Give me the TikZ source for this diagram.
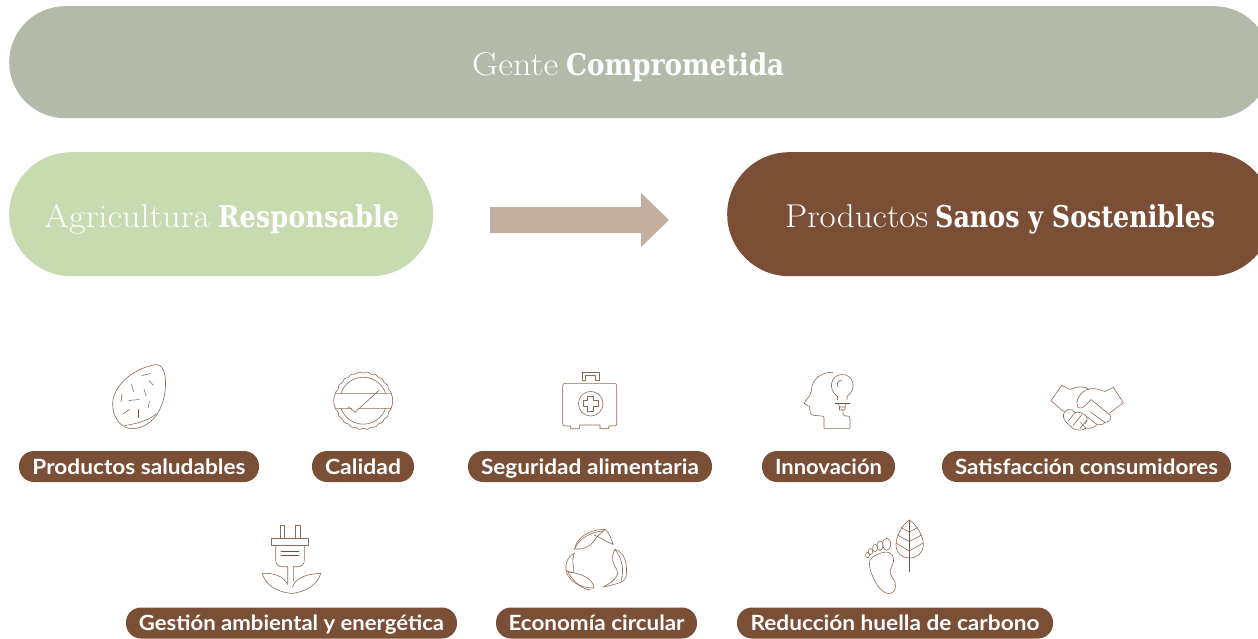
\documentclass[tikz,border=0pt]{standalone}
\usepackage{fontspec}
\usepackage{graphicx}
\setmainfont{Latin Modern Roman}
\newfontfamily\slabbold{DejaVu Serif Condensed}[BoldFont={* Bold}]
\newfontfamily\labelfont{Lato}[BoldFont={* Bold}]
\definecolor{sagec}{HTML}{B3BAA9}
\definecolor{greenc}{HTML}{C8DAB0}
\definecolor{brownc}{HTML}{7B4F35}
\definecolor{arrowc}{HTML}{C3AFA0}
\newcommand{\fitw}[2]{\resizebox{#1pt}{\height}{#2}}
\newcommand{\lighttxt}[2]{\fitw{#1}{\fontsize{33}{36}\selectfont #2}}
\newcommand{\boldtxt}[2]{\fitw{#1}{\fontsize{30}{36}\selectfont\slabbold\bfseries #2}}
\newcommand{\lab}[2]{\fitw{#1}{\fontsize{21}{24}\selectfont\labelfont\bfseries #2}}
\tikzset{
  x=1pt,y=-1pt,
  bigpill/.style={fill=#1,draw=none,rectangle,inner sep=0pt,anchor=north west},
  headtxt/.style={text=white,inner sep=0pt,anchor=base west},
  tagpill/.style={fill=brownc,text=white,rectangle,rounded corners=15pt,inner sep=0pt,
    minimum height=31pt,text height=19pt,text depth=4pt,align=center},
  icon/.style={draw=brownc!85,line width=0.6pt,line join=round,line cap=round},
  icondark/.style={draw=brownc,line width=0.7pt,line cap=round},
}
\begin{document}
\begin{tikzpicture}
\useasboundingbox (0,0) rectangle (1258,638);
\clip (0,0) rectangle (1258,638);
% big pills
\node[bigpill=sagec,minimum width=1261pt,minimum height=112pt,rounded corners=56pt] (top) at (9,6) {};
\node[bigpill=greenc,minimum width=424pt,minimum height=124pt,rounded corners=62pt] (agri) at (9,152) {};
\node[bigpill=brownc,minimum width=545pt,minimum height=124pt,rounded corners=62pt] (prod) at (727,152) {};
\node[headtxt] (toptxt) at (472,75) {\lighttxt{86}{Gente}\hspace{8pt}\boldtxt{218}{Comprometida}};
\node[headtxt] (agritxt) at (44,227) {\lighttxt{166}{Agricultura}\hspace{8pt}\boldtxt{181}{Responsable}};
\node[headtxt] (prodtxt) at (785,227) {\lighttxt{143}{Productos}\hspace{7pt}\boldtxt{280}{Sanos y Sostenibles}};
% block arrow
\fill[arrowc] (490,207) -- (641,207) -- (641,193) -- (669,220) -- (641,247) -- (641,233) -- (490,233) -- cycle;
% tags
\node[tagpill,minimum width=240pt] (t1) at (139,466.5) {\lab{213}{Productos saludables}};
\node[tagpill,minimum width=102pt] (t2) at (363,466.5) {\lab{76}{Calidad}};
\node[tagpill,minimum width=244pt] (t3) at (590,466.5) {\lab{218}{Seguridad alimentaria}};
\node[tagpill,minimum width=133pt] (t4) at (828.5,466.5) {\lab{107}{Innovación}};
\node[tagpill,minimum width=289pt] (t5) at (1086.5,466.5) {\lab{263}{Satisfacción consumidores}};
\node[tagpill,minimum width=331pt] (t6) at (291.5,623) {\lab{305}{Gestión ambiental y energética}};
\node[tagpill,minimum width=201pt] (t7) at (596.5,623) {\lab{176}{Economía circular}};
\node[tagpill,minimum width=316pt] (t8) at (895,623) {\lab{289}{Reducción huella de carbono}};
% almond
\draw[icon] (156,364.5) .. controls (162,364) and (166,372) .. (165.5,385)
  .. controls (165,405) and (155,427) .. (133,428.7)
  .. controls (120,429) and (112,416) .. (112.7,403)
  .. controls (113,388) and (130,369) .. (156,364.5) -- cycle;
\draw[icon] (125,425.5) .. controls (135,424) and (148,421) .. (156,414);
\draw[icon] (142,375.5)--(151,373.5) (149,380.5)--(153.5,385.5) (131.5,384)--(133.5,391.5)
  (144,389)--(146,396) (122,394)--(121,401.5) (129,400.5)--(139,399.5) (149.5,401)--(148,408)
  (123,414)--(129.5,409.5);
\draw[icondark] (138.3,409.5)--(138.3,417.5);
% quality badge
\draw[icon] plot[domain=0:360,samples=133,smooth] ({363.3+(28.3+0.6*cos(22*\x))*cos(\x)},{400.7+(28.3+0.6*cos(22*\x))*sin(\x)});
\draw[icon] (363.3,400.7) circle (23.5);
\draw[icon,fill=white] (335.5,393.3)--(391,393.3) .. controls (393.3,397) and (393.3,404) .. (391,408.3)
  -- (335.5,408.3) .. controls (333,404) and (333,397) .. (335.5,393.3) -- cycle;
\draw[icon,fill=white,draw=none] (352,406) rectangle (358,409);
\draw[icon] (348.3,406.7)--(355,412.3)--(379.3,390);
% first aid kit
\draw[icon] (565,383.3)--(614.5,383.3) .. controls (616,383.3) and (616.7,384.5) .. (616.7,386)
  --(616.7,423.5) .. controls (616.7,425) and (616,426) .. (614.5,426)--(608.7,426)--(608.7,428.7)--(600,428.7)--(600,425)--(579.3,425)--(579.3,428.7)--(570.7,428.7)--(570.7,426)--(565,426)
  .. controls (563.5,426) and (562.7,425) .. (562.7,423.5)--(562.7,386) .. controls (562.7,384.5) and (563.5,383.3) .. (565,383.3) -- cycle;
\draw[icon] (582.3,380.7)--(582.3,372.3)--(599,372.3)--(599,380.7)--(595.7,380.7)--(595.7,375.7)--(585.7,375.7)--(585.7,380.7)--cycle;
\draw[icon] (590.7,403.7) circle (12.3);
\draw[icon] (587.7,396.5)--(593.7,396.5)--(593.7,400.7)--(598,400.7)--(598,406.7)--(593.7,406.7)--(593.7,411)--(587.7,411)--(587.7,406.7)--(583.4,406.7)--(583.4,400.7)--(587.7,400.7)--cycle;
% head with bulb
\draw[icon] (833.3,372.3) .. controls (820,372) and (812,380) .. (811.5,390)
  .. controls (811,396) and (806,399) .. (804.3,403.3) -- (809.5,406.7)
  .. controls (810.5,410) and (809,415) .. (813.3,415.3) -- (822,416)
  .. controls (823.7,416.2) and (824,417) .. (824,418) -- (824,428.3) -- (850,428.3) -- (850,418)
  .. controls (850,416.5) and (849,416) .. (848,416) -- (845,416) .. controls (843,416) and (842.8,414) .. (842.8,410);
\draw[icon] (837.5,399.5) -- (837.5,396.5) .. controls (827,389) and (831,374.5) .. (842.3,374.5)
  .. controls (853.5,374.5) and (857.5,389) .. (847,396.5) -- (847,399.5);
\draw[icon] (838,387) .. controls (836,384) and (838,380) .. (842,380);
\draw[icondark] (835,403.3)--(850,403.3);
\draw[icon] (838.3,403.3)--(839.5,407)--(845,407)--(846.3,403.3) (839.5,407)--(839.5,410)--(845,410)--(845,407);
% handshake
\draw[icon] (1051,400.7)--(1061.7,385.3)--(1070,389.5) .. controls (1078,386) and (1085,386) .. (1089,389.5);
\draw[icon] (1123.3,402.7)--(1113.3,387.3)--(1105,391.5) .. controls (1098,389) and (1090,386) .. (1083,392)
  .. controls (1078,396) and (1075,403) .. (1078,407.5) .. controls (1081,409) and (1084,407) .. (1086,405)
  -- (1091,399.5) -- (1110,415) .. controls (1112,418) and (1111,421) .. (1105,422.5);
\draw[icon] (1051,400.7)--(1063.5,411.5);
\draw[icon] (1123.3,402.7)--(1109.5,413);
\draw[icon] (1090.5,412)--(1105,422.5) .. controls (1103,425) and (1099,425) .. (1097,424.5) -- (1086,416);
\draw[icon] (1097,424.5) .. controls (1094,428) and (1089,429) .. (1086,428) -- (1080,422);
\draw[icon] (1086,428) .. controls (1083,430.5) and (1078,431) .. (1073,428.5) -- (1065,421);
\draw[icon] (1065,420.5) .. controls (1062,417) and (1063,411) .. (1068,409.5) .. controls (1071,409) and (1073,410) .. (1075,412.5)
  .. controls (1079,411.5) and (1083,413) .. (1086,416) .. controls (1088,419) and (1087,421) .. (1085,424);
\draw[icon] (1075,412.5)--(1068,421.5) (1082,414.5)--(1073,425.5) (1087,420)--(1080,428.5);
% plug with leaves
\draw[icon] (280.7,538.3)--(280.7,525)--(284.3,525)--(284.3,538.3) (295.7,538.3)--(295.7,525)--(300,525)--(300,538.3);
\draw[icon] (271.7,538.3) rectangle (308.7,545.7);
\draw[icon] (275.7,545.7)--(275.7,560) .. controls (275.7,564) and (278,566.7) .. (282,566.7)--(287.7,566.7)--(287.7,583.5);
\draw[icon] (304.3,545.7)--(304.3,560) .. controls (304.3,564) and (302,566.7) .. (298,566.7)--(293.3,566.7)--(293.3,581.5);
\draw[icondark] (281,551)--(299,551) (281,555)--(299,555);
\draw[icon] (262.3,573.3) .. controls (272,573) and (283,575) .. (287.7,584.5);
\draw[icon] (262.3,573.3) .. controls (265,585) and (277,592) .. (291.7,593.5);
\draw[icon] (320.7,573.3) .. controls (310,574) and (296,576) .. (292.5,587);
\draw[icon] (320.7,573.3) .. controls (318,585) and (305,592) .. (291.7,593.5);
% recycling leaves
\draw[icon] (574.5,549) .. controls (577,537) and (590,529) .. (605,529.5) .. controls (610,533) and (611,540) .. (613.3,544.5)
  .. controls (606,542) and (600,537) .. (594,535);
\draw[icon] (574.5,549) .. controls (582,550) and (590,547) .. (594,541) .. controls (597,536) and (600,534) .. (605,529.5);
\draw[icon] (574.5,549) .. controls (580,537) and (592,532) .. (603,531);
\draw[icon] (615,549.5) .. controls (625,552) and (628,565) .. (626,577) .. controls (624,581) and (622,582) .. (619,583)
  .. controls (612,585) and (608,586) .. (603.5,587);
\draw[icon] (615,549.5) .. controls (610,557) and (613,564) .. (617,570) .. controls (619,575) and (616,580) .. (603.5,587);
\draw[icon] (615,549.5) .. controls (623,560) and (624,570) .. (621,581);
\draw[icon] (574.5,553) .. controls (568,556) and (565,563) .. (566,570) .. controls (568,580) and (578,588) .. (594,588);
\draw[icon] (574.5,553) .. controls (571,560) and (574,567) .. (574,572) ;
\draw[icon] (568,572) .. controls (580,573) and (593,578) .. (594,588);
\draw[icon] (568,572) .. controls (572,580) and (582,590) .. (591,590);
\draw[icon] (574,572) .. controls (570,573) and (567,571) .. (566,570);
% foot and leaf
\foreach \n/\cx/\cy/\rx/\ry in {a/886.7/544.3/4/6,b/880/545.7/3/4.8,c/875/548/2.4/3.8,d/870.5/551.5/2.2/3,e/867.5/555/2/2.6}
  \draw[icon] (\cx,\cy) ellipse ({\rx} and {\ry});
\draw[icon] (870,560) .. controls (872,556) and (880,552.5) .. (886,552) .. controls (891,552) and (894,556) .. (893.5,561)
  .. controls (893,566) and (889,569) .. (890.5,574) .. controls (892,578) and (895.5,580) .. (895.5,586)
  .. controls (895.5,591) and (892,594) .. (888,593.5) .. controls (881,592) and (876,584) .. (873,577)
  .. controls (870,571) and (868.5,565) .. (870,560) -- cycle;
\draw[icon] (909.3,520) .. controls (918,526) and (923.5,537) .. (923.3,545)
  .. controls (923,553) and (917,558) .. (909.3,558) .. controls (902,558) and (896,553) .. (896,545)
  .. controls (896,537) and (901,526) .. (909.3,520) -- cycle;
\draw[icondark] (909.3,520)--(909.3,571.7);
\draw[icon] (909.3,532)--(917.5,527.5) (909.3,532)--(901,527.5) (909.3,541.5)--(921.5,535) (909.3,541.5)--(897.5,535) (909.3,551)--(923,543) (909.3,551)--(896,543);
\end{tikzpicture}
\end{document}
